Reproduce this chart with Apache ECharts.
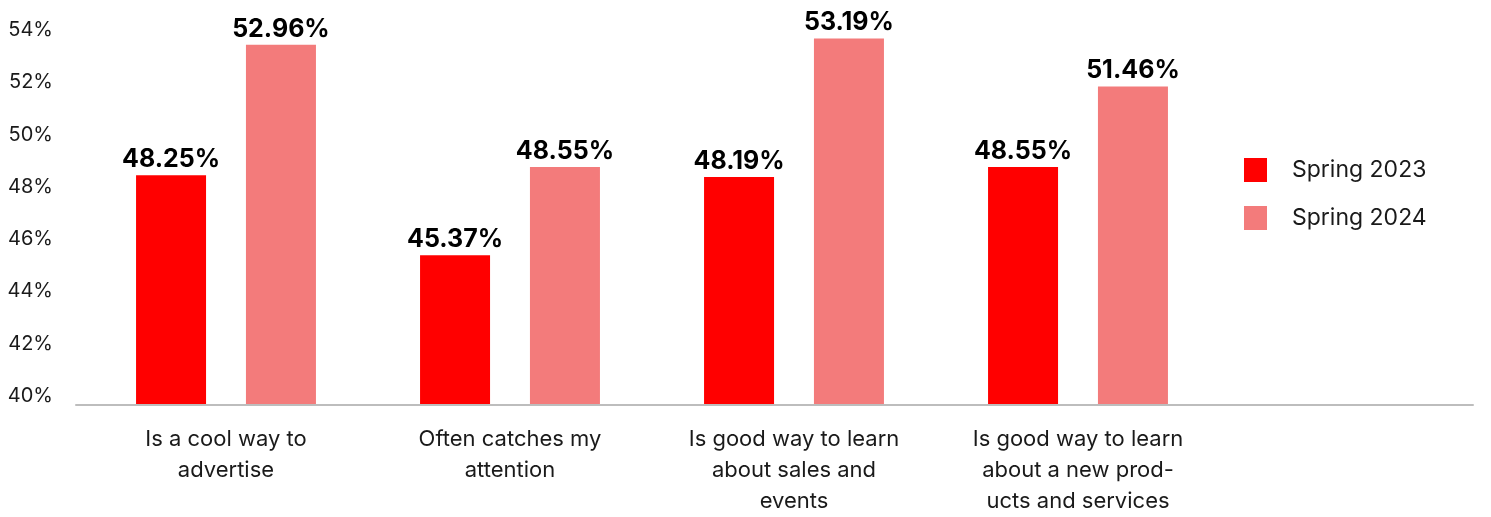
<!DOCTYPE html>
<html>
<head>
<meta charset="utf-8">
<script src="https://cdn.jsdelivr.net/npm/echarts@6/dist/echarts.min.js"></script>
<style>
html,body{margin:0;padding:0;background:#fff;}
#chart{width:1491px;height:517px;}
</style>
</head>
<body>
<div id="chart"></div>
<script>
const categories = [
  "Is a cool way to\nadvertise",
  "Often catches my\nattention",
  "Is good way to learn\nabout sales and\nevents",
  "Is good way to learn\nabout a new prod-\nucts and services"
];
const seriesNames = ["Spring 2023", "Spring 2024"];
const spring2023 = [48.25, 45.37, 48.19, 48.55];
const spring2024 = [52.96, 48.55, 53.19, 51.46];
const yTicks = [40, 42, 44, 46, 48, 50, 52, 54];

const FONT = "Inter, 'Liberation Sans', sans-serif";
const TXT = "#1a1a1a";

const chart = echarts.init(document.getElementById('chart'), null, {renderer: 'canvas'});
chart.setOption({
  animation: false,
  backgroundColor: '#ffffff',
  textStyle: {fontFamily: FONT},
  grid: [
    {left: 84, right: 271, top: 16, bottom: 112},
    {left: 76, right: 18, top: 30, bottom: 121},
    {left: 76, right: 18, top: 16, bottom: 112}
  ],
  legend: {
    data: seriesNames,
    orient: 'vertical',
    left: 1244,
    top: 158,
    padding: 0,
    icon: 'rect',
    itemWidth: 23,
    itemHeight: 24,
    itemGap: 24,
    textStyle: {fontFamily: FONT, fontSize: 23, color: TXT, padding: [0, 0, 0, 20]}
  },
  xAxis: [
    {
      type: 'category', gridIndex: 0, data: categories,
      axisLine: {show: false}, axisTick: {show: false},
      axisLabel: {fontFamily: FONT, fontSize: 22, color: TXT, lineHeight: 31, margin: 20, interval: 0}
    },
    {type: 'category', gridIndex: 1, data: [''], show: false},
    {
      type: 'category', gridIndex: 2, data: [''],
      axisLine: {show: true, lineStyle: {color: '#BDBDBD', width: 2}},
      axisTick: {show: false}, axisLabel: {show: false}
    }
  ],
  yAxis: [
    {type: 'value', gridIndex: 0, min: yTicks[0], max: yTicks[yTicks.length - 1], show: false},
    {
      type: 'value', gridIndex: 1, min: yTicks[0], max: yTicks[yTicks.length - 1], interval: 2,
      axisLine: {show: false}, axisTick: {show: false}, splitLine: {show: false},
      axisLabel: {formatter: '{value}%', fontFamily: FONT, fontSize: 20, color: TXT, margin: 23}
    },
    {type: 'value', gridIndex: 2, show: false}
  ],
  series: [
    {
      name: seriesNames[0], type: 'bar', xAxisIndex: 0, yAxisIndex: 0,
      data: spring2023, barWidth: 70, barGap: '57%',
      itemStyle: {color: '#FF0000'},
      label: {show: true, position: 'top', distance: 3, formatter: p => p.value.toFixed(2) + '%',
        fontFamily: FONT, fontSize: 25, fontWeight: 'bold', color: '#000'}
    },
    {
      name: seriesNames[1], type: 'bar', xAxisIndex: 0, yAxisIndex: 0,
      data: spring2024, barWidth: 70, barGap: '57%',
      itemStyle: {color: '#F37B7B'},
      label: {show: true, position: 'top', distance: 3, formatter: p => p.value.toFixed(2) + '%',
        fontFamily: FONT, fontSize: 25, fontWeight: 'bold', color: '#000'}
    }
  ]
});
</script>
</body>
</html>
